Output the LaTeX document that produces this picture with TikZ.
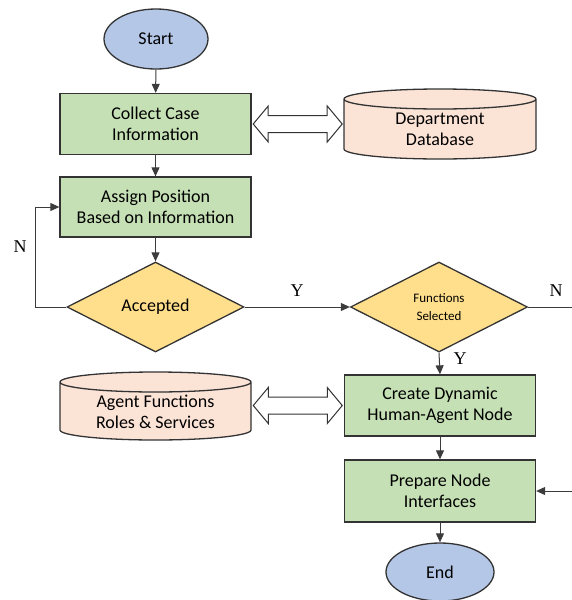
\documentclass[tikz,border=0pt]{standalone}
\usepackage{fontspec}
\setmainfont{Carlito}
\newfontfamily\tnr{Liberation Serif}
\usetikzlibrary{shapes.geometric,arrows.meta,calc}
\definecolor{boxgreen}{HTML}{C5E0B4}
\definecolor{ovalblue}{HTML}{B4C7E7}
\definecolor{diayellow}{HTML}{FFDF8C}
\definecolor{dbpink}{HTML}{FBE3D6}
\definecolor{edge}{HTML}{333333}
\definecolor{wire}{HTML}{3C3C3C}
\newcommand{\mycyl}[4]{% cx, top, bottom, halfwidth
  \fill[dbpink] (#1-#4,#2+10) -- (#1-#4,#3-10) arc[start angle=180,end angle=360,x radius=#4pt,y radius=10pt] -- (#1+#4,#2+10) arc[start angle=0,end angle=180,x radius=#4pt,y radius=10pt] -- cycle;
  \draw[edge,line width=1.3pt] (#1-#4,#2+10) -- (#1-#4,#3-10) arc[start angle=180,end angle=360,x radius=#4pt,y radius=10pt] -- (#1+#4,#2+10) arc[start angle=0,end angle=360,x radius=#4pt,y radius=10pt];
}
\newcommand{\hollowarrow}[1]{% centre coordinate name
  \draw[dblarrow] ($(#1)+(-44.5,0)$) -- ($(#1)+(-29.5,-18)$) -- ($(#1)+(-29.5,-8.5)$) -- ($(#1)+(29.5,-8.5)$) -- ($(#1)+(29.5,-18)$) -- ($(#1)+(44.5,0)$) -- ($(#1)+(29.5,18)$) -- ($(#1)+(29.5,8.5)$) -- ($(#1)+(-29.5,8.5)$) -- ($(#1)+(-29.5,18)$) -- cycle;
}
\tikzset{
  proc/.style={rectangle,draw=edge,line width=1.3pt,fill=boxgreen,minimum width=191pt,minimum height=61pt,align=center,font=\fontsize{18}{21}\selectfont,inner sep=0pt},
  oval/.style={ellipse,draw=edge,line width=1.3pt,fill=ovalblue,minimum width=104pt,minimum height=60pt,inner sep=0pt,font=\fontsize{18}{21}\selectfont},
  dec/.style={diamond,draw=edge,line width=1.3pt,fill=diayellow,minimum width=177pt,minimum height=90pt,inner sep=0pt,align=center,font=\fontsize{18}{21}\selectfont},
  dbtext/.style={rectangle,minimum width=192pt,inner sep=0pt,align=center,font=\fontsize{18}{21}\selectfont},
  dblarrow/.style={draw=edge,line width=1pt,fill=white,line join=miter},
  arr/.style={draw=wire,line width=1pt,-{Triangle[length=9pt,width=8pt]}},
  wireline/.style={draw=wire,line width=1pt},
  yn/.style={font=\tnr\fontsize{18}{18}\selectfont,inner sep=0pt}
}
\begin{document}
\begin{tikzpicture}[x=1pt,y=-1pt]
\useasboundingbox (0,0) rectangle (572,600);
% cylinders
\mycyl{440}{89}{159}{96}
\mycyl{155.5}{372}{440}{95.5}
% nodes
\node[oval] (start) at (156,39) {Start};
\node[proc] (collect) at (155.5,124) {Collect Case\\Information};
\node[dbtext] (dept) at (440,129.5) {Department\\Database};
\node[proc,minimum height=60pt] (assign) at (155.5,207) {Assign Position\\Based on Information};
\node[dec] (acc) at (155.5,307) {Accepted};
\node[dec,font=\fontsize{13}{18.5}\selectfont] (func) at (439,307) {Functions\\Selected};
\node[dbtext] (agent) at (155.5,412) {Agent Functions\\Roles \& Services};
\node[proc] (create) at (440,405.5) {Create Dynamic\\Human-Agent Node};
\node[proc,minimum height=62pt] (prep) at (440,491) {Prepare Node\\Interfaces};
\node[oval,minimum width=108pt,minimum height=58pt] (end) at (440,572) {End};
% hollow double arrows
\coordinate (link1) at ($(collect.east)!0.5!(collect.east -| dept.west)$);
\coordinate (link2) at ($(create.west)!0.5!(create.west -| agent.east)$);
\hollowarrow{link1}
\hollowarrow{link2}
% connectors
\draw[arr] (start) -- (collect);
\draw[arr] (collect) -- (assign);
\draw[arr] (assign) -- (acc);
\draw[arr] (acc.west) -- ++(-31,0) |- (assign.west);
\node[yn] (nleft) at (20,247) {N};
\draw[arr] (acc.east) -- (func.west);
\node[yn] (yacc) at (297,291) {Y};
\coordinate (nout) at (572,307);
\draw[wireline] (func.east) -- (nout);
\node[yn] (nfunc) at (556,291) {N};
\draw[arr] (func.south) -- (create.north);
\node[yn] (yfunc) at (460,359) {Y};
\draw[arr] (create) -- (prep);
\coordinate (pin) at (572,491);
\draw[arr] (pin) -- (prep.east);
\draw[arr] (prep) -- (end);
\end{tikzpicture}
\end{document}
